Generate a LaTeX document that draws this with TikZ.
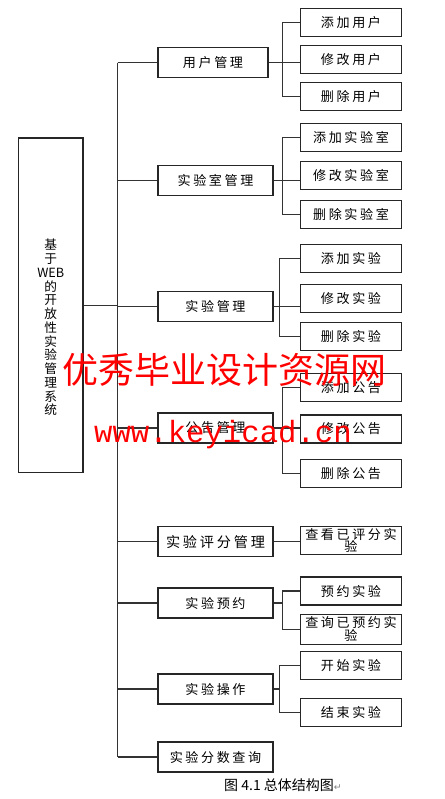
\documentclass[tikz,border=0pt]{standalone}
\usepackage{fontspec}
\setmainfont{Noto Sans CJK SC}
\newfontfamily\boxfont[LetterSpace=20]{Noto Sans CJK SC}
\newfontfamily\markfont{Noto Sans CJK SC}
\newfontfamily\urlfont{Liberation Mono}
\newfontfamily\symfont{DejaVu Sans}

\tikzstyle{rootbox} = [rectangle, minimum width=48.4pt, minimum height=251pt, draw=black!85, line width=0.8pt]
\tikzstyle{groupbox} = [rectangle, minimum width=86.25pt, minimum height=22.5pt, inner sep=0pt, text centered, align=center, draw=black!85, line width=0.8pt, font=\boxfont\fontsize{9.8pt}{10pt}\selectfont]
\tikzstyle{itembox} = [rectangle, minimum width=76.3pt, minimum height=21pt, inner sep=0pt, text centered, align=center, draw=black!85, line width=0.8pt, font=\boxfont\fontsize{9.8pt}{9.5pt}\selectfont]
\tikzstyle{line} = [draw=black!80, line width=0.8pt]
\tikzstyle{watermark} = [text=red, inner sep=0pt]

\begin{document}
\begin{tikzpicture}[x=0.75pt, y=-0.75pt]

    \useasboundingbox (0,0) rectangle (445,799);

    \node (root) [rootbox] at (50.75,305.3) {};
    \node (roottext) [align=center, font=\fontsize{9.5pt}{10.3pt}\selectfont] at (50.75,327.5) {基\\于\\WEB\\的\\开\\放\\性\\实\\验\\管\\理\\系\\统};

    \node (user) [groupbox, minimum width=82.5pt] at (213,62.7) {用户管理};
    \node (lab) [groupbox] at (215.5,180.8) {实验室管理};
    \node (exp) [groupbox] at (215.5,306.5) {实验管理};
    \node (notice) [groupbox] at (215.5,428) {公告管理};
    \node (score) [groupbox, font=\boxfont\fontsize{10.6pt}{11pt}\selectfont] at (215.5,541.7) {实验评分管理};
    \node (book) [groupbox] at (215.5,603) {实验预约};
    \node (oper) [groupbox] at (215.5,689) {实验操作};
    \node (query) [groupbox] at (215.5,757) {实验分数查询};

    \node (adduser) [itembox] at (351,22.3) {添加用户};
    \node (moduser) [itembox] at (351,59.2) {修改用户};
    \node (deluser) [itembox] at (351,96.2) {删除用户};
    \node (addlab) [itembox] at (351,137.3) {添加实验室};
    \node (modlab) [itembox] at (351,175.8) {修改实验室};
    \node (dellab) [itembox] at (351,214.3) {删除实验室};
    \node (addexp) [itembox] at (351,258.7) {添加实验};
    \node (modexp) [itembox] at (351,298.3) {修改实验};
    \node (delexp) [itembox] at (351,336.8) {删除实验};
    \node (addnote) [itembox] at (351,387.3) {添加公告};
    \node (modnote) [itembox] at (351,429) {修改公告};
    \node (delnote) [itembox] at (351,473.3) {删除公告};
    \node (viewscore) [itembox] at (351,540.5) {查看已评分实\\验};
    \node (bookexp) [itembox] at (351,591) {预约实验};
    \node (viewbook) [itembox, minimum height=22.7pt] at (351,629.2) {查询已预约实\\验};
    \node (start) [itembox] at (351,665.3) {开始实验};
    \node (stop) [itembox] at (351,712.5) {结束实验};

    \coordinate (bus) at (117.5,0);
    \coordinate (sub) at (282.7,0);
    \coordinate (subb) at (279.3,0);

    % main bus
    \draw [line] (root) -- (root -| bus);
    \draw [line] (user -| bus) -- (query -| bus);
    \foreach \g in {user,lab,exp,notice,score,book,oper,query}
        \draw [line] (\g -| bus) -- (\g);

    \draw [line] (user) -- (user -| sub) |- (adduser);
    \draw [line] (user -| sub) |- (deluser);
    \draw [line] (user -| sub) -- (user -| moduser.west);

    \draw [line] (lab) -- (lab -| sub) |- (addlab);
    \draw [line] (lab -| sub) |- (dellab);
    \draw [line] (lab -| sub) -- (lab -| modlab.west);

    \draw [line] (exp) -- (exp -| subb) |- (addexp);
    \draw [line] (exp -| subb) |- (delexp);
    \draw [line] (exp -| subb) -- (exp -| modexp.west);

    \draw [line] (notice) -- (notice -| sub) |- (addnote);
    \draw [line] (notice -| sub) |- (delnote);
    \draw [line] (notice -| sub) -- (notice -| modnote.west);

    \draw [line] (score) -- (score -| viewscore.west);

    \draw [line] (book) -- (book -| sub) |- (bookexp);
    \draw [line] (book -| sub) |- (viewbook);

    \draw [line] (oper) -- (oper -| subb) |- (start);
    \draw [line] (oper -| subb) |- (stop);

    \node (caption) [font=\fontsize{10.5pt}{11pt}\selectfont] at (283,785) {图 4.1 总体结构图{\symfont\color{gray}\fontsize{7pt}{8pt}\selectfont ↵}};

    % watermark
    \node (wmtitle) [watermark, font=\markfont\fontsize{27pt}{30pt}\selectfont] at (224,370) {优秀毕业设计资源网};
    \node (wmurl) [watermark, font=\urlfont\fontsize{23pt}{26pt}\selectfont] at (223,435) {www.keyicad.cn};

\end{tikzpicture}
\end{document}
